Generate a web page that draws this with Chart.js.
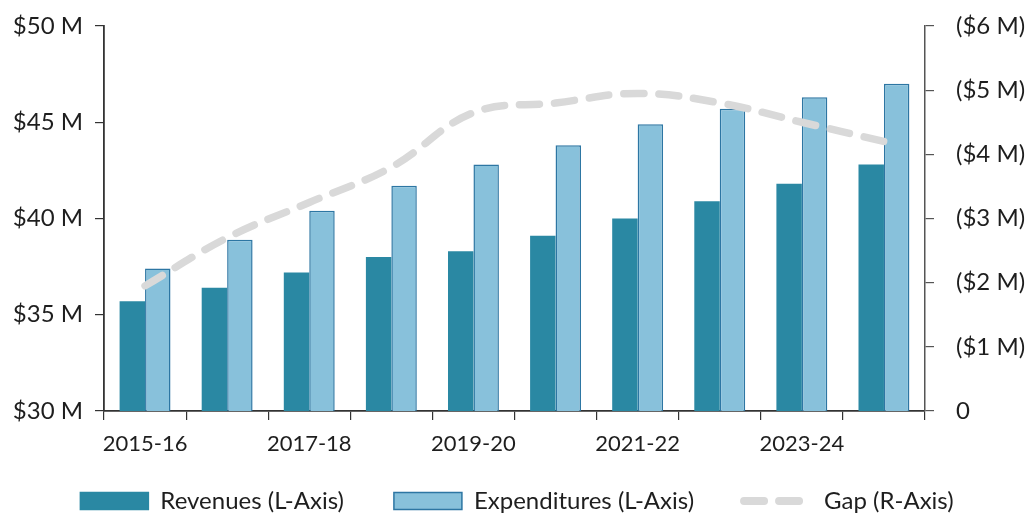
<!DOCTYPE html>
<html>
<head>
<meta charset="utf-8">
<script src="https://cdn.jsdelivr.net/npm/chart.js@4/dist/chart.umd.min.js"></script>
<style>
  html, body { margin: 0; padding: 0; background: #ffffff; }
  #wrap { width: 1034px; height: 523px; }
</style>
</head>
<body>
<div id="wrap"><canvas id="c" width="1034" height="523"></canvas></div>
<script>
// Fiscal years
const years = ['2015-16', '2016-17', '2017-18', '2018-19', '2019-20',
               '2020-21', '2021-22', '2022-23', '2023-24', '2024-25'];
// Revenues and expenditures, $ millions (left axis)
const revenues     = [35.7, 36.4, 37.2, 38.0, 38.3, 39.1, 40.0, 40.9, 41.8, 42.8];
const expenditures = [37.4, 38.9, 40.4, 41.7, 42.8, 43.8, 44.9, 45.7, 46.3, 47.0];
// Shortfall, $ millions, negative (right axis)
const gap = [-1.95, -2.7, -3.25, -3.8, -4.65, -4.8, -4.95, -4.8, -4.5, -4.2];
// Axis tick values
const leftTicks  = [30, 35, 40, 45, 50];
const rightTicks = [0, -1, -2, -3, -4, -5, -6];

const FONT = 'Lato, "Open Sans", sans-serif';
const TEXT = '#1e1e1e';

// fixed side widths; label overhang does not push the plot area down
function fixWidth(w) {
  return axis => { axis.width = w; axis.paddingTop = 0; axis.paddingBottom = 0; };
}

new Chart(document.getElementById('c'), {
  data: {
    labels: years,
    datasets: [
      {
        type: 'bar',
        label: 'Revenues (L-Axis)',
        data: revenues,
        yAxisID: 'yL',
        backgroundColor: '#2a88a3',
        borderWidth: 0,
        categoryPercentage: 0.62,
        barPercentage: 1.0,
        order: 2
      },
      {
        type: 'bar',
        label: 'Expenditures (L-Axis)',
        data: expenditures,
        yAxisID: 'yL',
        backgroundColor: '#88c1db',
        borderColor: '#2d76a3',
        borderWidth: 1.5,
        categoryPercentage: 0.62,
        barPercentage: 1.0,
        order: 2
      },
      {
        type: 'line',
        label: 'Gap (R-Axis)',
        data: gap,
        yAxisID: 'yR',
        borderColor: '#d9d9d9',
        backgroundColor: '#d9d9d9',
        borderWidth: 7.5,
        borderDash: [20, 15],
        borderCapStyle: 'round',
        tension: 0.4,
        pointRadius: 0,
        fill: false,
        order: 1
      }
    ]
  },
  options: {
    responsive: false,
    animation: false,
    layout: { padding: { left: 0, right: 0, top: 26, bottom: 0 } },
    plugins: {
      tooltip: { enabled: false },
      legend: {
        position: 'bottom',
        align: 'center',
        labels: {
          sort: (a, b) => a.datasetIndex - b.datasetIndex,
          usePointStyle: true,
          pointStyleWidth: 68,
          boxHeight: 17,
          padding: 50,
          color: TEXT,
          font: { family: FONT, size: 24 },
          generateLabels(chart) {
            return chart.data.datasets.map((ds, i) => ({
              text: ds.label,
              datasetIndex: i,
              fillStyle: ds.type === 'line' ? 'rgba(0,0,0,0)' : ds.backgroundColor,
              strokeStyle: ds.type === 'line' ? ds.borderColor : (ds.borderColor || ds.backgroundColor),
              lineWidth: ds.type === 'line' ? 8 : 1.5,
              lineDash: ds.type === 'line' ? [20, 15] : [],
              lineCap: ds.type === 'line' ? 'round' : 'butt',
              pointStyle: ds.type === 'line' ? 'line' : 'rect',
              fontColor: TEXT,
              hidden: false
            }));
          }
        }
      }
    },
    scales: {
      x: {
        offset: true,
        // compact box so the legend keeps its spacing; labels are drawn
        // unclipped below the axis line (mirror + negative padding)
        afterFit: axis => { axis.height = 28; },
        grid: {
          offset: true,
          drawOnChartArea: false,
          drawTicks: true,
          tickLength: 9,
          color: '#333333',
          lineWidth: 1.2
        },
        border: { color: '#333333', width: 1.8 },
        ticks: {
          mirror: true,
          autoSkip: false,
          maxRotation: 0,
          padding: -46,
          color: TEXT,
          font: { family: FONT, size: 22 },
          callback: (v, i) => (i % 2 === 0 ? years[i] : '')
        }
      },
      yL: {
        position: 'left',
        min: 30,
        max: 50,
        afterFit: fixWidth(104),
        afterBuildTicks: axis => { axis.ticks = leftTicks.map(v => ({ value: v })); },
        grid: { drawOnChartArea: false, tickLength: 9, color: '#333333', lineWidth: 1.2 },
        border: { color: '#333333', width: 1.8 },
        ticks: {
          color: TEXT,
          padding: 12,
          font: { family: FONT, size: 24 },
          callback: v => '$' + v + ' M'
        }
      },
      yR: {
        position: 'right',
        min: -6,
        max: 0,
        reverse: true,
        afterFit: fixWidth(109),
        afterBuildTicks: axis => { axis.ticks = rightTicks.map(v => ({ value: v })); },
        grid: { drawOnChartArea: false, tickLength: 9, color: '#555555', lineWidth: 1.2 },
        border: { color: '#555555', width: 1.5 },
        ticks: {
          color: TEXT,
          padding: 22,
          font: { family: FONT, size: 24 },
          callback: v => (v === 0 ? '0' : '($' + (-v) + ' M)')
        }
      }
    }
  }
});
</script>
</body>
</html>
